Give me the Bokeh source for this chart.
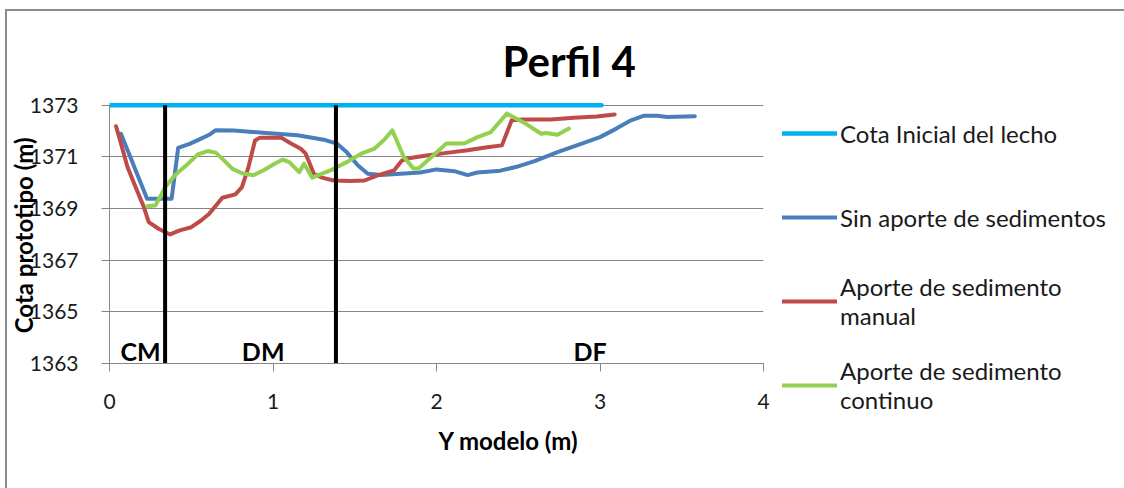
from bokeh.plotting import figure
from bokeh.models import Range1d, Legend, LegendItem, FixedTicker, Title
from bokeh.core.properties import value
from bokeh.embed import file_html
from bokeh.resources import INLINE

# ---------------- data ----------------
x_cota = [0.0, 3.01]
y_cota = [1373.0, 1373.0]

x_sin = [0.07, 0.23, 0.38, 0.42, 0.49, 0.56, 0.61, 0.65, 0.76, 0.94, 1.15, 1.31,
         1.39, 1.45, 1.52, 1.58, 1.66, 1.78, 1.90, 2.00, 2.11, 2.19, 2.25, 2.39,
         2.49, 2.60, 2.74, 2.88, 3.00, 3.10, 3.19, 3.27, 3.35, 3.41, 3.58]
y_sin = [1371.90, 1369.38, 1369.38, 1371.35, 1371.51, 1371.71, 1371.86, 1372.04,
         1372.03, 1371.94, 1371.84, 1371.67, 1371.52, 1371.19, 1370.67, 1370.35,
         1370.30, 1370.35, 1370.40, 1370.52, 1370.45, 1370.30, 1370.40, 1370.47,
         1370.62, 1370.84, 1371.19, 1371.50, 1371.77, 1372.10, 1372.42, 1372.60,
         1372.60, 1372.55, 1372.58]

x_manual = [0.04, 0.07, 0.11, 0.16, 0.21, 0.24, 0.30, 0.37, 0.43, 0.50, 0.56, 0.61,
            0.66, 0.69, 0.77, 0.81, 0.85, 0.89, 0.92, 1.05, 1.11, 1.17, 1.20, 1.25,
            1.30, 1.37, 1.47, 1.56, 1.64, 1.74, 1.79, 1.84, 1.94, 2.05, 2.19, 2.31,
            2.40, 2.46, 2.53, 2.70, 2.84, 2.98, 3.09]
y_manual = [1372.19, 1371.52, 1370.61, 1369.83, 1369.06, 1368.48, 1368.22, 1368.00,
            1368.16, 1368.28, 1368.54, 1368.80, 1369.19, 1369.42, 1369.55, 1369.83,
            1370.61, 1371.64, 1371.75, 1371.75, 1371.52, 1371.32, 1371.13, 1370.35,
            1370.20, 1370.09, 1370.07, 1370.09, 1370.29, 1370.48, 1370.87, 1370.96,
            1371.06, 1371.15, 1371.26, 1371.38, 1371.45, 1372.42, 1372.45, 1372.45,
            1372.52, 1372.57, 1372.65]

x_continuo = [0.23, 0.28, 0.31, 0.34, 0.40, 0.48, 0.54, 0.60, 0.65, 0.70, 0.75, 0.81,
              0.88, 0.94, 1.01, 1.06, 1.10, 1.16, 1.19, 1.24, 1.35, 1.45, 1.54, 1.62,
              1.68, 1.73, 1.80, 1.86, 1.89, 1.98, 2.06, 2.17, 2.25, 2.33, 2.43, 2.53,
              2.64, 2.67, 2.74, 2.81]
y_continuo = [1369.09, 1369.12, 1369.45, 1369.83, 1370.29, 1370.74, 1371.10, 1371.23,
              1371.17, 1370.87, 1370.55, 1370.37, 1370.29, 1370.48, 1370.74, 1370.90,
              1370.80, 1370.41, 1370.74, 1370.20, 1370.48, 1370.80, 1371.13, 1371.32,
              1371.67, 1372.03, 1371.00, 1370.55, 1370.55, 1371.06, 1371.52, 1371.52,
              1371.77, 1371.95, 1372.68, 1372.35, 1371.90, 1371.93, 1371.86, 1372.10]

zone_bounds = [0.34, 1.385]
zone_names = ["CM", "DM", "DF"]
zone_label_x = [0.19, 0.94, 2.94]
zone_label_y = [1363.5, 1363.5, 1363.5]

x_ticks = [0, 1, 2, 3, 4]
y_ticks = [1363, 1365, 1367, 1369, 1371, 1373]

series_labels = ["Cota Inicial del lecho", "Sin aporte de sedimentos",
                 "Aporte de sedimento\nmanual", "Aporte de sedimento\ncontinuo"]

# ---------------- styles ----------------
FONT = "Lato"
GRID = "#868686"
C_COTA, C_SIN, C_MAN, C_CONT = "#00B0F0", "#4A7EBB", "#BE4B48", "#92D050"

p = figure(output_backend="svg", toolbar_location=None,
           frame_width=654, frame_height=262,
           min_border_left=109, min_border_right=359,
           min_border_top=101, min_border_bottom=125,
           x_range=Range1d(0, 4), y_range=Range1d(1363, 1373.15))
p.outline_line_color = None
p.background_fill_color = "white"
p.border_fill_color = None
p.styles = {"background": "linear-gradient(#8c8c8c,#8c8c8c) 5px 9px / 2px calc(100% - 9px) no-repeat, "
                          "linear-gradient(#8c8c8c,#8c8c8c) 5px 9px / calc(100% - 5px) 2px no-repeat, #ffffff"}

# title
p.title.text = "Perfil 4"
p.title.align = "left"
p.title.offset = 393
p.title.standoff = 32
p.title.text_font = FONT
p.title.text_font_size = "42px"
p.title.text_font_style = "bold"
p.title.text_color = "black"

# axes
p.xaxis.ticker = FixedTicker(ticks=x_ticks)
p.yaxis.ticker = FixedTicker(ticks=y_ticks)
p.yaxis.bounds = (1363, 1373)
for ax in (p.xaxis, p.yaxis):
    ax.axis_line_color = GRID
    ax.major_tick_line_color = GRID
    ax.major_tick_out = 8
    ax.major_tick_in = 0
    ax.minor_tick_line_color = None
    ax.major_label_text_font = FONT
    ax.major_label_text_font_size = "21px"
    ax.major_label_text_color = "#1a1a1a"
p.xaxis.major_label_standoff = 22
p.yaxis.major_label_standoff = 23
p.yaxis.axis_label = "Cota prototipo  (m)"
p.yaxis.axis_label_standoff = -11
p.yaxis.axis_label_text_font = FONT
p.yaxis.axis_label_text_font_size = "24px"
p.yaxis.axis_label_text_font_style = "bold"
p.yaxis.axis_label_text_color = "black"
p.xgrid.grid_line_color = None
p.ygrid.ticker = FixedTicker(ticks=y_ticks)
p.ygrid.grid_line_color = GRID
p.ygrid.grid_line_width = 1

# x-axis title, shifted right as in the original
p.add_layout(Title(text="Y modelo (m)", align="left", offset=329, vertical_align="top",
                   standoff=28, text_font=FONT, text_font_size="24px",
                   text_font_style="bold", text_color="black"),
             "below")

# series
r_cota = p.line(x_cota, y_cota, line_color=C_COTA, line_width=4.5, line_cap="round")
r_sin = p.line(x_sin, y_sin, line_color=C_SIN, line_width=4, line_join="round", line_cap="round")
r_man = p.line(x_manual, y_manual, line_color=C_MAN, line_width=4, line_join="round", line_cap="round")
r_cont = p.line(x_continuo, y_continuo, line_color=C_CONT, line_width=4, line_join="round", line_cap="round")

# zone boundaries and labels
p.segment(x0=zone_bounds, y0=[1363] * len(zone_bounds), x1=zone_bounds,
          y1=[1373] * len(zone_bounds), line_color="black", line_width=4)
p.text(x=zone_label_x, y=zone_label_y, text=zone_names, text_align="center",
       text_baseline="middle", text_font=value(FONT), text_font_size="25px",
       text_font_style="bold", text_color="black")

# legend
renderers = [r_cota, r_sin, r_man, r_cont]
legend = Legend(items=[LegendItem(label=l, renderers=[r]) for l, r in zip(series_labels, renderers)],
                location=(19, -51), orientation="vertical", padding=0, margin=0, spacing=26,
                glyph_width=55, glyph_height=58, label_height=58, label_standoff=3,
                label_text_font=FONT, label_text_font_size="24px",
                label_text_color="#1a1a1a", border_line_color=None,
                background_fill_alpha=0)
p.add_layout(legend, "right")

open("out.html", "w").write(file_html(p, INLINE))
